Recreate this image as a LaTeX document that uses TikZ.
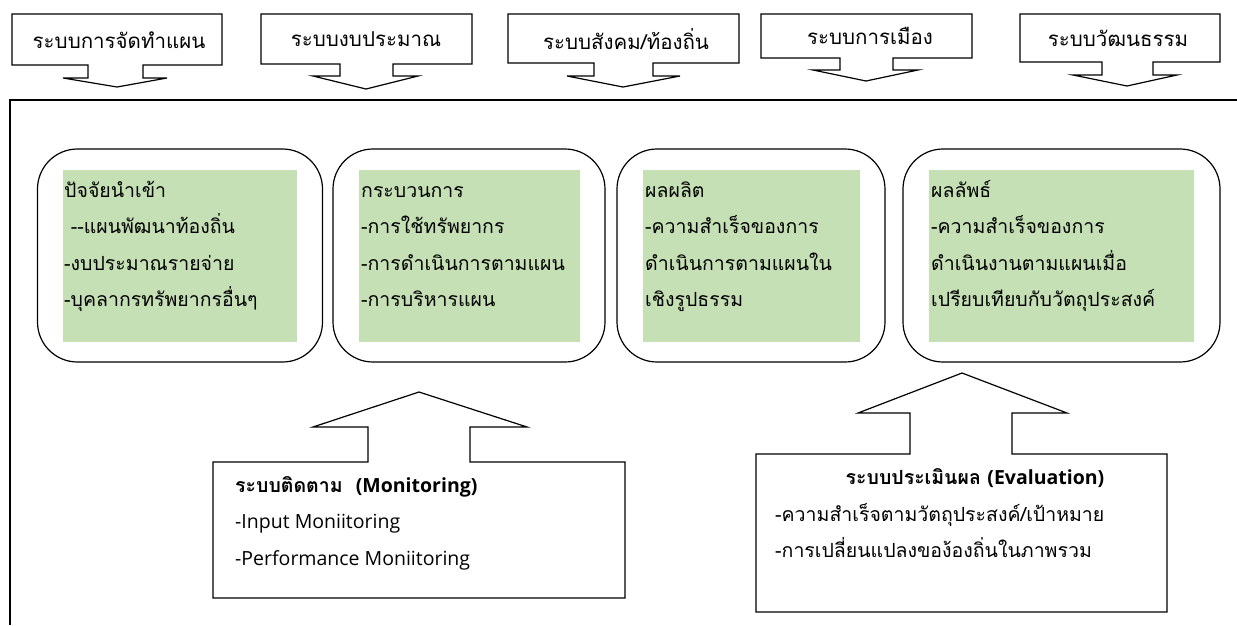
\documentclass[tikz,border=0pt]{standalone}
\usepackage{fontspec}
\setmainfont[Script=Thai]{Loma}
\newfontfamily\latinfont{Open Sans}
\definecolor{leafgreen}{RGB}{197,224,180}
\newcommand{\firstline}{\rule{0pt}{18pt}}
\newcommand{\latintxt}{\latinfont\fontsize{19.5}{36.5}\selectfont}
\tikzset{
  sysline/.style={draw, line width=1.2pt, line join=miter},
  roundbox/.style={draw, line width=1.2pt, rounded corners=40pt,
    minimum width=#1, minimum height=213pt, inner sep=0pt},
  greenbox/.style={fill=leafgreen, minimum width=#1, minimum height=172pt, inner sep=0pt},
  txt/.style={font=\fontsize{19.5}{36.5}\selectfont, align=left, inner sep=0pt},
  toptxt/.style={font=\fontsize{20.5}{24}\selectfont, inner sep=0pt},
}
\begin{document}
\begin{tikzpicture}[x=1pt,y=-1pt]
  \useasboundingbox (0,0) rectangle (1237,625);
  % outer frame
  \draw[line width=2pt] (10,625) -- (10,100) -- (1237,100);
  % top callouts
  \draw[sysline] (12,14) -- (222,14) -- (222,65) -- (143,65) -- (143,78) -- (167,78)
    -- (117,87) -- (63,78) -- (88,78) -- (88,65) -- (12,65) -- cycle;
  \draw[sysline] (261,14) -- (472,14) -- (472,64) -- (393,64) -- (393,76) -- (418,76)
    -- (366,89) -- (313,76) -- (340,76) -- (340,64) -- (261,64) -- cycle;
  \draw[sysline] (508,14) -- (739,14) -- (739,63) -- (653,63) -- (653,76) -- (680,76)
    -- (623,87) -- (567,76) -- (594,76) -- (594,63) -- (508,63) -- cycle;
  \draw[sysline] (761,14) -- (972,14) -- (972,58) -- (893,58) -- (893,70) -- (918,70)
    -- (866,81) -- (813,70) -- (840,70) -- (840,58) -- (761,58) -- cycle;
  \draw[sysline] (1020,14) -- (1220,14) -- (1220,62) -- (1153,62) -- (1153,75) -- (1177,75)
    -- (1127,86) -- (1073,75) -- (1102,75) -- (1102,62) -- (1020,62) -- cycle;
  \node[toptxt] (plan) at (119,40) {ระบบการจัดทำแผน};
  \node[toptxt] (budget) at (366,39) {ระบบงบประมาณ};
  \node[toptxt] (social) at (626,39) {ระบบสังคม/ท้องถิ่น};
  \node[toptxt] (politics) at (870,36) {ระบบการเมือง};
  \node[toptxt] (culture) at (1118,38) {ระบบวัฒนธรรม};
  % stages
  \node[roundbox=285pt] (input) at (180,255.5) {};
  \node[roundbox=272pt] (process) at (469,255.5) {};
  \node[roundbox=268pt] (output) at (751,255.5) {};
  \node[roundbox=317pt] (outcome) at (1061.5,255.5) {};
  \node[greenbox=234pt] (inputbg) at (180,255.5) {};
  \node[greenbox=221pt] (processbg) at (469.5,255.5) {};
  \node[greenbox=217pt] (outputbg) at (751.5,255.5) {};
  \node[greenbox=265pt] (outcomebg) at (1061.5,255.5) {};
  \node[txt, anchor=north west] (inputtxt) at (64,179)
    {\firstline ปัจจัยนำเข้า\\\ -{}-แผนพัฒนาท้องถิ่น\\-งบประมาณรายจ่าย\\-บุคลากรทรัพยากรอื่นๆ};
  \node[txt, anchor=north west] (processtxt) at (361,179)
    {\firstline กระบวนการ\\-การใช้ทรัพยากร\\-การดำเนินการตามแผน\\-การบริหารแผน};
  \node[txt, anchor=north west] (outputtxt) at (645,179)
    {\firstline ผลผลิต\\-ความสำเร็จของการ\\ดำเนินการตามแผนใน\\เชิงรูปธรรม};
  \node[txt, anchor=north west] (outcometxt) at (931,179)
    {\firstline ผลลัพธ์\\-ความสำเร็จของการ\\ดำเนินงานตามแผนเมื่อ\\เปรียบเทียบกับวัตถุประสงค์};
  % bottom callouts
  \draw[sysline] (213,462) -- (368,462) -- (368,427) -- (313,427) -- (419,392) -- (527,427)
    -- (470,427) -- (470,462) -- (625,462) -- (625,598) -- (213,598) -- cycle;
  \draw[sysline] (756,454) -- (910,454) -- (910,413) -- (858,413) -- (962,373) -- (1067,413)
    -- (1012,413) -- (1012,454) -- (1167,454) -- (1167,612) -- (756,612) -- cycle;
  \node[txt, anchor=north west] (monitor) at (235,474)
    {\firstline\textbf{ระบบติดตาม\ \ {\latintxt(Monitoring)}}\\
     {\latintxt -Input Moniitoring}\\
     {\latintxt -Performance Moniitoring}};
  \node[txt, anchor=base] (evalhead) at (975,484)
    {\textbf{ระบบประเมินผล {\latintxt(Evaluation)}}};
  \node[txt, anchor=north west] (evaltxt) at (775,503)
    {\firstline -ความสำเร็จตามวัตถุประสงค์/เป้าหมาย\\-การเปลี่ยนแปลงของ้องถิ่นในภาพรวม};
\end{tikzpicture}
\end{document}
